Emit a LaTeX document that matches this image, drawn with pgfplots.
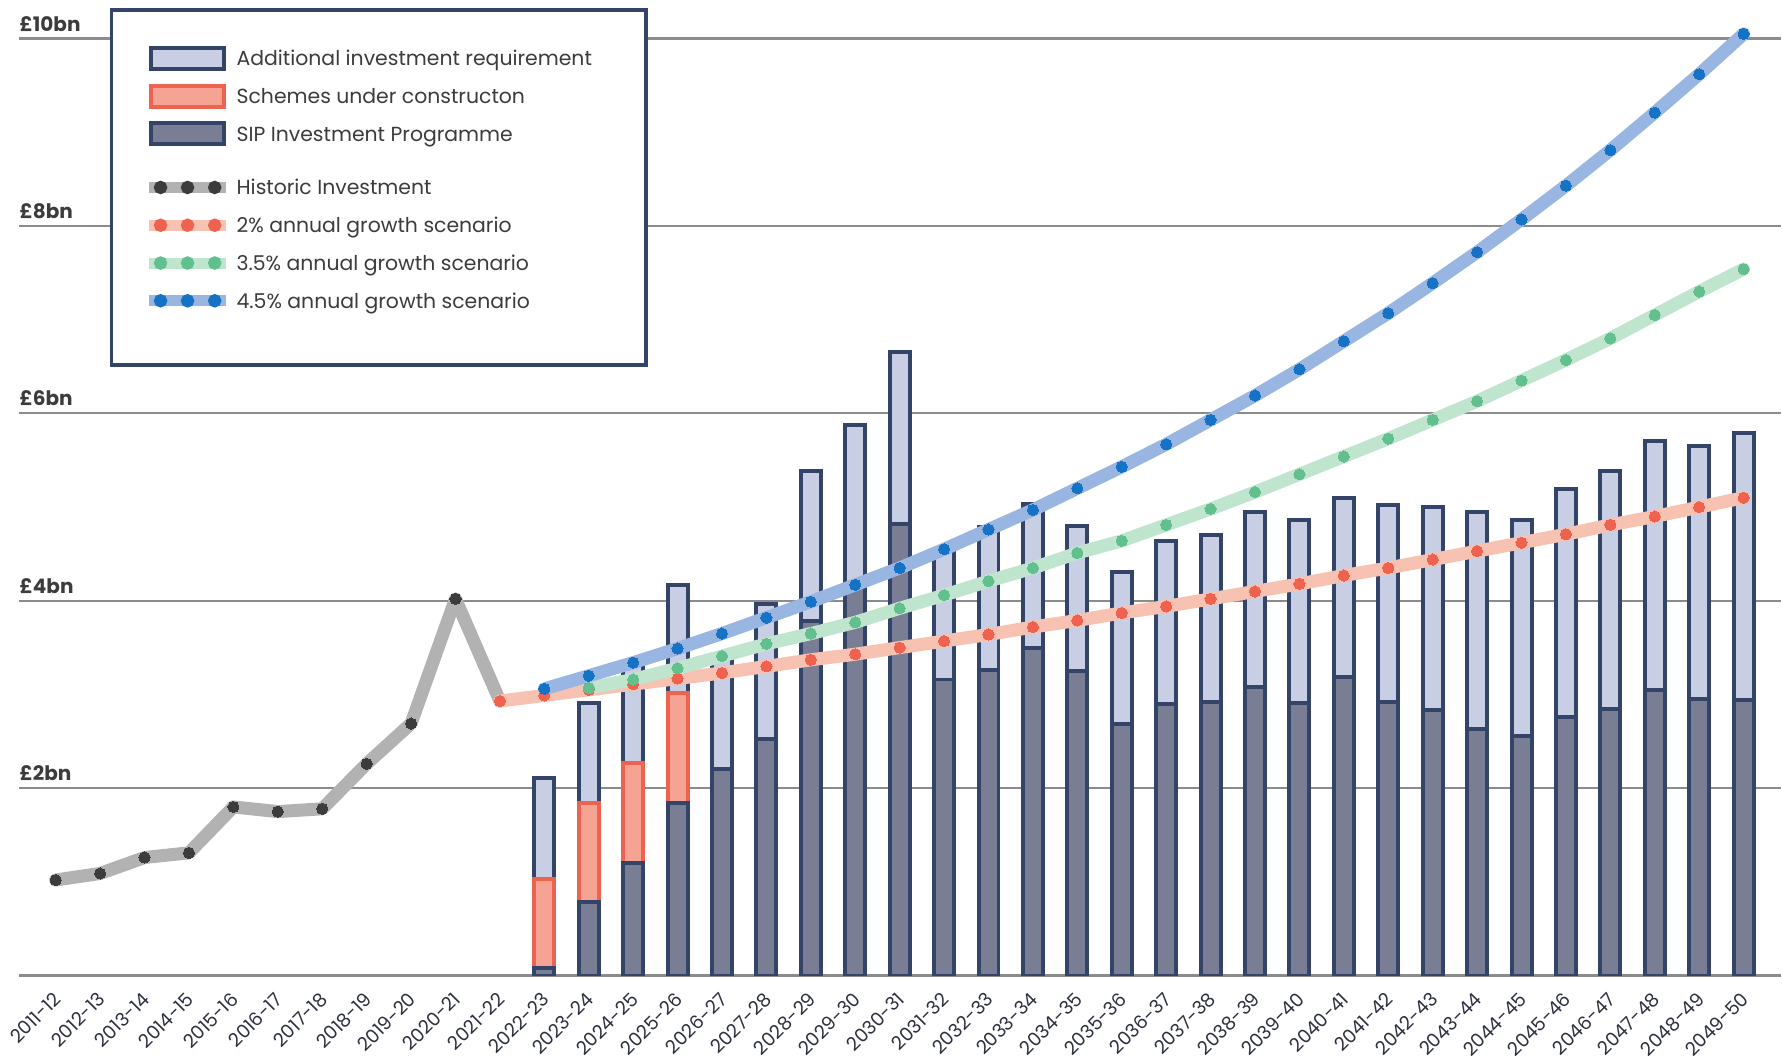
\documentclass[border=0pt]{standalone}
\usepackage{fontspec}
\setmainfont{Poppins}
\usepackage{pgfplots}
\pgfplotsset{compat=1.18}

\definecolor{navy}{RGB}{52,68,105}
\definecolor{lightbar}{RGB}{200,207,229}
\definecolor{darkbar}{RGB}{122,126,148}
\definecolor{salmonbar}{RGB}{245,163,146}
\definecolor{salmonedge}{RGB}{238,98,80}
\definecolor{gridgrey}{RGB}{140,140,140}
\definecolor{greyband}{RGB}{178,178,178}
\definecolor{greydot}{RGB}{60,60,60}
\definecolor{redband}{RGB}{248,194,178}
\definecolor{reddot}{RGB}{240,98,80}
\definecolor{greenband}{RGB}{192,229,207}
\definecolor{greendot}{RGB}{98,192,142}
\definecolor{blueband}{RGB}{152,182,225}
\definecolor{bluedot}{RGB}{22,114,196}
\definecolor{labelgrey}{RGB}{60,60,60}
\definecolor{ticktext}{RGB}{45,48,62}

% fixed row height for the legend entries
\newcommand\ls{\rule[-3.5pt]{0pt}{12.5pt}}

\pgfplotsset{
  base/.style={
    scale only axis, width=881.35pt, height=488pt,
    xmin=-0.82, xmax=38.84, ymin=0, ymax=10.41,
    enlargelimits=false,
  },
  barseg/.style={line width=2pt},
  band/.style={line width=6.5pt, line join=round, line cap=round,
    mark=*, mark size=2.8pt, mark options={solid, line width=0pt, draw=#1, fill=#1}},
  bandleg/.style n args={2}{legend image code/.code={
    \path (0pt,-5.4pt) (0pt,5.4pt);
    \draw[line width=5.5pt, #1] (0pt,0pt) -- (38.5pt,0pt);
    \fill[#2] (5.7pt,0pt) circle (2.5pt);
    \fill[#2] (19.2pt,0pt) circle (2.5pt);
    \fill[#2] (32.8pt,0pt) circle (2.5pt);}},
  barleg/.style n args={2}{legend image code/.code={
    \draw[fill=#1, draw=#2, line width=2pt] (1pt,-5.25pt) rectangle (37.5pt,5.25pt);}},
}

\begin{document}
\begin{tikzpicture}
% bars with schemes under construction (2022-23 to 2025-26), plus grid and labels
\begin{axis}[base,
  ybar stacked, bar width=10pt,
  axis line style={draw=none}, major tick length=0pt,
  ymajorgrids, grid style={gridgrey, line width=1.1pt},
  ytick={0,2,4,6,8,10}, yticklabels={,£2bn,£4bn,£6bn,£8bn,£10bn},
  yticklabel style={anchor=south west, inner sep=0pt, yshift=3.5pt,
    font=\bfseries\fontsize{10}{12}\selectfont, text=labelgrey},
  xtick={0,...,38},
  xticklabels={2011-12,2012-13,2013-14,2014-15,2015-16,2016-17,2017-18,2018-19,2019-20,2020-21,
    2021-22,2022-23,2023-24,2024-25,2025-26,2026-27,2027-28,2028-29,2029-30,2030-31,
    2031-32,2032-33,2033-34,2034-35,2035-36,2036-37,2037-38,2038-39,2039-40,2040-41,
    2041-42,2042-43,2043-44,2044-45,2045-46,2046-47,2047-48,2048-49,2049-50},
  xticklabel style={rotate=45, anchor=north east, inner sep=0pt, xshift=-6.5pt, yshift=-4pt,
    font=\fontsize{9.4}{11}\selectfont, text=ticktext},
]
\addplot[barseg, fill=darkbar, draw=navy] coordinates {(11,0.08) (12,0.79) (13,1.20) (14,1.84)};
\addplot[barseg, fill=salmonbar, draw=salmonedge] coordinates {(11,0.95) (12,1.05) (13,1.07) (14,1.18)};
\addplot[barseg, fill=lightbar, draw=navy] coordinates {(11,1.08) (12,1.07) (13,1.07) (14,1.15)};
\end{axis}

% bars 2026-27 to 2049-50
\begin{axis}[base, hide axis, ybar stacked, bar width=10pt]
\addplot[barseg, fill=darkbar, draw=navy] coordinates {
  (15,2.20) (16,2.52) (17,3.78) (18,4.18) (19,4.82) (20,3.16) (21,3.26) (22,3.50)
  (23,3.25) (24,2.69) (25,2.90) (26,2.92) (27,3.08) (28,2.91) (29,3.19) (30,2.92)
  (31,2.83) (32,2.63) (33,2.56) (34,2.76) (35,2.85) (36,3.05) (37,2.95) (38,2.94)};
\addplot[barseg, fill=lightbar, draw=navy] coordinates {
  (15,1.21) (16,1.45) (17,1.61) (18,1.70) (19,1.83) (20,1.39) (21,1.53) (22,1.53)
  (23,1.55) (24,1.62) (25,1.74) (26,1.78) (27,1.87) (28,1.95) (29,1.91) (30,2.10)
  (31,2.17) (32,2.32) (33,2.30) (34,2.43) (35,2.54) (36,2.66) (37,2.70) (38,2.85)};
\end{axis}

% lines and legend
\begin{axis}[base, hide axis,
  legend style={at={(0.0515,0.9918)}, anchor=north west,
    draw=navy, line width=1.7pt, fill=white,
    inner xsep=16pt, inner ysep=18pt, row sep=6.4pt, column sep=2.5pt,
    font=\fontsize{10.2}{12}\selectfont, text=labelgrey,
    nodes={inner sep=0pt}},
  legend cell align=left,
]
\addlegendimage{barleg={lightbar}{navy}}
\addlegendentry{\ls Additional investment requirement\hspace*{11pt}}
\addlegendimage{barleg={salmonbar}{salmonedge}}
\addlegendentry{\ls Schemes under constructon}
\addlegendimage{barleg={darkbar}{navy}}
\addlegendentry{\ls SIP Investment Programme}
\addlegendimage{empty legend}
\addlegendentry{\mbox{}}
\addlegendimage{bandleg={greyband}{greydot}}
\addlegendentry{\ls Historic Investment}
\addlegendimage{bandleg={redband}{reddot}}
\addlegendentry{\ls 2\% annual growth scenario}
\addlegendimage{bandleg={greenband}{greendot}}
\addlegendentry{\ls 3.5\% annual growth scenario}
\addlegendimage{bandleg={blueband}{bluedot}}
\addlegendentry{\ls 4.5\% annual growth scenario}
\addlegendimage{empty legend}
\addlegendentry{\mbox{}}

\addplot[forget plot, greyband, band=greydot] coordinates {
  (0,1.02) (1,1.09) (2,1.26) (3,1.31) (4,1.80) (5,1.75) (6,1.78) (7,2.26) (8,2.69) (9,4.02) (10,2.93)};
\addplot[forget plot, redband, band=reddot] coordinates {
  (10,2.93) (11,2.99) (12,3.05) (13,3.11) (14,3.17) (15,3.23) (16,3.30) (17,3.37) (18,3.43)
  (19,3.50) (20,3.57) (21,3.64) (22,3.72) (23,3.79) (24,3.87) (25,3.94) (26,4.02) (27,4.10)
  (28,4.18) (29,4.27) (30,4.35) (31,4.44) (32,4.53) (33,4.62) (34,4.71) (35,4.81) (36,4.90)
  (37,5.00) (38,5.10)};
\addplot[forget plot, greenband, band=greendot] coordinates {
  (12,3.07) (13,3.16) (14,3.28) (15,3.41) (16,3.54) (17,3.65) (18,3.77) (19,3.92) (20,4.06)
  (21,4.21) (22,4.35) (23,4.51) (24,4.64) (25,4.81) (26,4.98) (27,5.16) (28,5.35) (29,5.54)
  (30,5.73) (31,5.93) (32,6.13) (33,6.35) (34,6.57) (35,6.80) (36,7.05) (37,7.30) (38,7.54)};
\addplot[forget plot, blueband, band=bluedot] coordinates {
  (11,3.06) (12,3.20) (13,3.34) (14,3.49) (15,3.65) (16,3.82) (17,3.99) (18,4.17) (19,4.35)
  (20,4.55) (21,4.76) (22,4.97) (23,5.20) (24,5.43) (25,5.67) (26,5.93) (27,6.19) (28,6.47)
  (29,6.77) (30,7.07) (31,7.39) (32,7.72) (33,8.07) (34,8.43) (35,8.81) (36,9.21) (37,9.62)
  (38,10.05)};
\end{axis}
% white margin at the left and below, as in the original
\path ([xshift=-9.65pt,yshift=-41pt]current axis.south west);
\end{tikzpicture}
\end{document}
